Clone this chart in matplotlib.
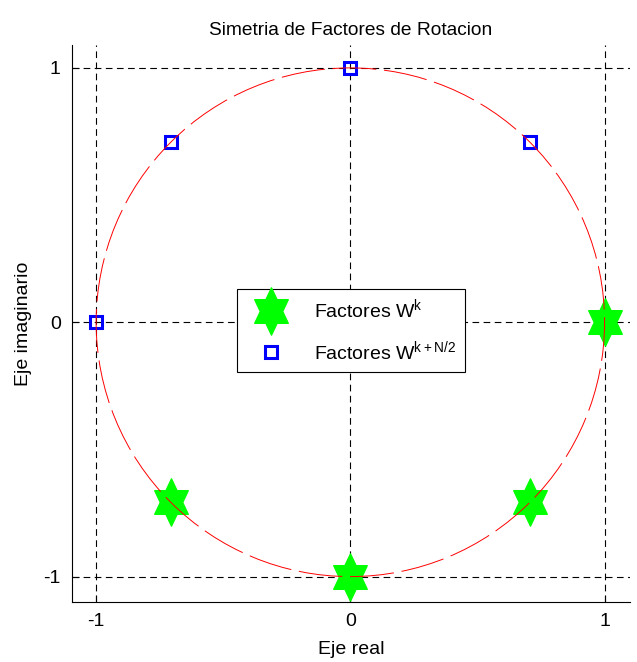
import numpy as np
import matplotlib
matplotlib.use('Agg')
import matplotlib.pyplot as plt
from matplotlib.path import Path
from matplotlib.patches import Circle

plt.rcParams['font.family'] = ['Liberation Sans', 'DejaVu Sans']
plt.rcParams['axes.unicode_minus'] = False

# W^k for k = 0..3 (N = 8) and W^(k+N/2)
wk_re = [1.0, 0.707, 0.0, -0.707]
wk_im = [0.0, -0.707, -1.0, -0.707]
wkn_re = [-1.0, -0.707, 0.0, 0.707]
wkn_im = [0.0, 0.707, 1.0, 0.707]
ticks = [-1, 0, 1]
radius = 1.0

# hexagram marker (MATLAB style six-pointed star, a bit narrow)
ang = np.deg2rad(np.arange(12) * 30 + 90)
rr = np.where(np.arange(12) % 2 == 0, 1.0, 1 / np.sqrt(3))
verts = np.column_stack([0.82 * rr * np.cos(ang), rr * np.sin(ang)])
verts = np.vstack([verts, verts[:1]])
hexagram = Path(verts, closed=True)

fig = plt.figure(figsize=(6.37, 6.62), dpi=100)
ax = fig.add_axes([0.113, 0.0906, 0.876, 0.8414])

ax.plot(wk_re, wk_im, linestyle='none', marker=hexagram, markersize=34,
        color='#00ff00', markeredgecolor='#00ff00', label=r'Factores $\mathregular{W^{k}}$', zorder=3)
ax.plot(wkn_re, wkn_im, linestyle='none', marker='s', markersize=9, markeredgewidth=2.2,
        markerfacecolor='none', markeredgecolor='#0000ff',
        label=r'Factores $\mathregular{W^{k+N/2}}$', zorder=3)

circ = Circle((0, 0), radius, fill=False, edgecolor='red', linewidth=0.7,
              linestyle=(0, (45, 8)), zorder=4)
ax.add_patch(circ)

ax.set_xlim(-1.095, 1.1)
ax.set_ylim(-1.1, 1.09)
ax.set_xticks(ticks)
ax.set_yticks(ticks)
ax.grid(True, color='black', linestyle=(0, (6, 4)), linewidth=0.8)
ax.set_axisbelow(True)
for s in ['top', 'right']:
    ax.spines[s].set_visible(False)
ax.tick_params(direction='in', length=5, labelsize=14, pad=8)

ax.set_title('Simetria de Factores de Rotacion', fontsize=13.8, pad=7)
ax.set_xlabel('Eje real', fontsize=14, labelpad=8)
ax.set_ylabel('Eje imaginario', fontsize=14, labelpad=8)

leg = ax.legend(loc='center', bbox_to_anchor=(0.5, 0.488), fontsize=14,
                fancybox=False, edgecolor='black', framealpha=1,
                borderpad=0.45, handlelength=2.6, handletextpad=0.9,
                labelspacing=0.9, borderaxespad=0)
leg.get_frame().set_linewidth(0.8)

fig.savefig('out.png', dpi=100)
